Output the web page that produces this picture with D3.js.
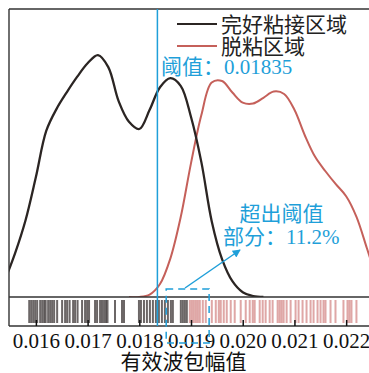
<!DOCTYPE html>
<html>
<head>
<meta charset="utf-8">
<script src="https://cdn.jsdelivr.net/npm/d3@7"></script>
<style>
  html, body { margin: 0; padding: 0; background: #fff; }
  svg { display: block; }
</style>
</head>
<body>
<svg id="chart" width="369" height="373"></svg>
<script>
// Kernel density estimates of the effective wave-packet amplitude
const bondedX = [0.0154, 0.0156, 0.0158, 0.0160, 0.0162, 0.0164, 0.0166, 0.0168, 0.0170, 0.0172,
                 0.0174, 0.0176, 0.0178, 0.0180, 0.0182, 0.0184, 0.0186, 0.0188, 0.0190, 0.0192,
                 0.0194, 0.0196, 0.0198, 0.0200, 0.0202, 0.0204];
const bondedDensity = [35, 92, 160, 250, 346, 392, 427, 459, 487, 504,
                       479, 408, 365, 350, 390, 437, 456, 440, 375, 281,
                       158, 79, 33, 10, 2, 0];

const debondedX = [0.0178, 0.0180, 0.0182, 0.0184, 0.0186, 0.0188, 0.0190, 0.0192, 0.0194, 0.0196,
                   0.0198, 0.0200, 0.0202, 0.0204, 0.0206, 0.0208, 0.0210, 0.0212, 0.0214, 0.0216,
                   0.0218, 0.0220, 0.0222, 0.0224, 0.0226];
const debondedDensity = [0, 0, 5, 27, 80, 166, 279, 379, 447, 450,
                         426, 405, 403, 415, 428, 423, 390, 337, 292, 262,
                         235, 210, 167, 102, 35];

// Individual measurements (rug strip)
const bondedSamples = [0.015871, 0.015909, 0.015948, 0.015986, 0.016025, 0.016083, 0.016122, 0.016160,
                       0.016189, 0.016237, 0.016276, 0.016314, 0.016353, 0.016411, 0.016507, 0.016565,
                       0.016604, 0.016652, 0.016720, 0.016758, 0.016806, 0.016893, 0.016951, 0.016990,
                       0.017028, 0.017144, 0.017183, 0.017241, 0.017279, 0.017318, 0.017356, 0.017385,
                       0.017530, 0.017665, 0.017704, 0.017993, 0.018032, 0.018090, 0.018147, 0.018205,
                       0.018263, 0.018321, 0.018379, 0.018437, 0.018495, 0.018553, 0.018611, 0.018649,
                       0.018803, 0.018842, 0.018881, 0.018919];
const debondedSamples = [0.018977, 0.019016, 0.019054, 0.019093, 0.019131, 0.019170, 0.019228, 0.019286,
                         0.019402, 0.019479, 0.019537, 0.019575, 0.019633, 0.019691, 0.019768, 0.019845,
                         0.019961, 0.020058, 0.020135, 0.020193, 0.020231, 0.020328, 0.020386, 0.020443,
                         0.020521, 0.020578, 0.020675, 0.020714, 0.020752, 0.020791, 0.020849, 0.020926,
                         0.021022, 0.021080, 0.021157, 0.021234, 0.021312, 0.021370, 0.021447, 0.021505,
                         0.021562, 0.021601, 0.021698, 0.021794, 0.021948, 0.022026, 0.022064, 0.022103,
                         0.022199];

const tickValues = [0.016, 0.017, 0.018, 0.019, 0.020, 0.021, 0.022];
const tickLabels = ["0.016", "0.017", "0.018", "0.019", "0.020", "0.021", "0.022"];
const seriesNames = ["完好粘接区域", "脱粘区域"];
const threshold = 0.01835;
const exceedRange = [0.01852, 0.01935];
const exceedShare = "11.2%";

(function draw() {
  const BLACK = "#2b2523", RED = "#c5605a", BLUE = "#1f9fd9", FRAME = "#333";
  const SERIF = "'Liberation Serif', 'Noto Sans CJK SC', serif";

  const svg = d3.select("#chart");
  const plotLeft = 9, plotRight = 372, plotTop = 9, densBottom = 297, stripBottom = 326;

  const x = d3.scaleLinear().domain([0.01548, 0.0225]).range([plotLeft, plotRight]);
  const y = d3.scaleLinear().domain([0, 600]).range([densBottom, plotTop]);

  const defs = svg.append("defs");
  defs.append("clipPath").attr("id", "plotClip")
    .append("rect").attr("x", plotLeft).attr("y", plotTop)
    .attr("width", plotRight - plotLeft).attr("height", densBottom - plotTop);

  const line = d3.line()
    .x(d => x(d[0])).y(d => y(d[1]))
    .curve(d3.curveCatmullRom.alpha(0.5));

  const curves = svg.append("g").attr("clip-path", "url(#plotClip)");
  curves.append("path")
    .datum(debondedX.map((v, i) => [v, debondedDensity[i]]))
    .attr("d", line).attr("fill", "none")
    .attr("stroke", RED).attr("stroke-width", 2);
  curves.append("path")
    .datum(bondedX.map((v, i) => [v, bondedDensity[i]]))
    .attr("d", line).attr("fill", "none")
    .attr("stroke", BLACK).attr("stroke-width", 2.3);

  // rug strip
  const rug = svg.append("g");
  rug.selectAll("line.b").data(bondedSamples).join("line")
    .attr("class", "b")
    .attr("x1", d => x(d)).attr("x2", d => x(d))
    .attr("y1", 300).attr("y2", 323)
    .attr("stroke", "#2e2626").attr("stroke-opacity", 0.7).attr("stroke-width", 2);
  rug.selectAll("line.r").data(debondedSamples).join("line")
    .attr("class", "r")
    .attr("x1", d => x(d)).attr("x2", d => x(d))
    .attr("y1", 300).attr("y2", 323)
    .attr("stroke", "#c0504d").attr("stroke-opacity", 0.5).attr("stroke-width", 2);

  // frame
  const frame = svg.append("g").attr("stroke", FRAME).attr("stroke-width", 1.4);
  frame.append("line").attr("x1", plotLeft).attr("x2", plotRight).attr("y1", plotTop).attr("y2", plotTop);
  frame.append("line").attr("x1", plotLeft).attr("x2", plotRight).attr("y1", densBottom).attr("y2", densBottom);
  frame.append("line").attr("x1", plotLeft).attr("x2", plotRight).attr("y1", stripBottom).attr("y2", stripBottom);
  frame.append("line").attr("x1", plotLeft).attr("x2", plotLeft).attr("y1", plotTop).attr("y2", stripBottom);

  // x axis with inward ticks
  const axis = d3.axisBottom(x)
    .tickValues(tickValues)
    .tickFormat((d, i) => tickLabels[i])
    .tickSizeInner(-6).tickSizeOuter(0).tickPadding(7);
  const gAxis = svg.append("g").attr("transform", `translate(0,${stripBottom})`).call(axis);
  gAxis.select(".domain").remove();
  gAxis.selectAll(".tick line").attr("stroke", "#111").attr("stroke-width", 1.5);
  gAxis.selectAll(".tick text")
    .attr("font-family", SERIF).attr("font-size", 21).attr("fill", "#111");

  svg.append("text")
    .attr("x", 183.5).attr("y", 368.5).attr("text-anchor", "middle")
    .attr("font-family", SERIF).attr("font-size", 21).attr("fill", "#111")
    .text("有效波包幅值");

  // threshold
  svg.append("line")
    .attr("x1", x(threshold)).attr("x2", x(threshold))
    .attr("y1", plotTop).attr("y2", stripBottom)
    .attr("stroke", BLUE).attr("stroke-width", 1.5);
  svg.append("text")
    .attr("x", 161).attr("y", 74)
    .attr("font-family", SERIF).attr("font-size", 21).attr("fill", BLUE)
    .text("阈值：" + threshold);

  // exceeding region box
  svg.append("rect")
    .attr("x", x(exceedRange[0])).attr("y", 289)
    .attr("width", x(exceedRange[1]) - x(exceedRange[0])).attr("height", 54)
    .attr("fill", "none").attr("stroke", BLUE).attr("stroke-width", 1.5)
    .attr("stroke-dasharray", "7,5");

  // arrow to annotation
  defs.append("marker")
    .attr("id", "arrow").attr("viewBox", "0 0 10 10")
    .attr("refX", 9).attr("refY", 5)
    .attr("markerWidth", 10).attr("markerHeight", 8)
    .attr("markerUnits", "userSpaceOnUse").attr("orient", "auto")
    .append("path").attr("d", "M0,0 L10,5 L0,10 Z").attr("fill", BLUE);
  svg.append("line")
    .attr("x1", 185).attr("y1", 288).attr("x2", 240).attr("y2", 250)
    .attr("stroke", BLUE).attr("stroke-width", 1.5).attr("marker-end", "url(#arrow)");

  svg.append("text")
    .attr("x", 281.5).attr("y", 220.5).attr("text-anchor", "middle")
    .attr("font-family", SERIF).attr("font-size", 21).attr("fill", BLUE)
    .text("超出阈值");
  svg.append("text")
    .attr("x", 223).attr("y", 243.5)
    .attr("font-family", SERIF).attr("font-size", 21).attr("fill", BLUE)
    .text("部分：" + exceedShare);

  // legend
  const legend = svg.append("g");
  [[BLACK, 24, 31.5], [RED, 46, 53.5]].forEach(([c, ly, ty], i) => {
    legend.append("line").attr("x1", 177).attr("x2", 217).attr("y1", ly).attr("y2", ly)
      .attr("stroke", c).attr("stroke-width", 2);
    legend.append("text").attr("x", 221).attr("y", ty)
      .attr("font-family", SERIF).attr("font-size", 21).attr("fill", "#222")
      .text(seriesNames[i]);
  });
})();
</script>
</body>
</html>
